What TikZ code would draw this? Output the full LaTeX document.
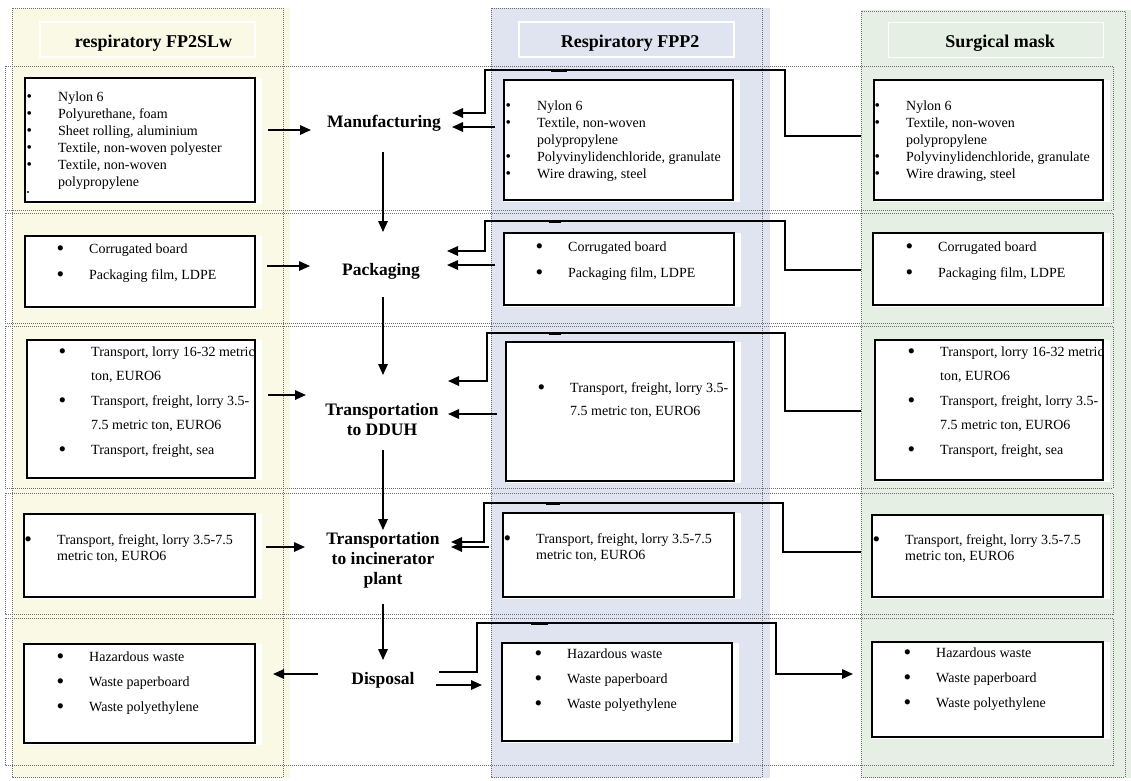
\documentclass[tikz,border=0pt]{standalone}
\usepackage{fontspec}
\usepackage{graphicx}
\setmainfont{Liberation Serif}
\usetikzlibrary{arrows.meta}
\pgfdeclarelayer{bg}
\pgfdeclarelayer{mid}
\pgfsetlayers{bg,mid,main}
\definecolor{colY}{RGB}{250,249,230}
\definecolor{colB}{RGB}{224,228,241}
\definecolor{colG}{RGB}{229,239,228}
\definecolor{dotc}{RGB}{110,110,110}
\newcommand\bu{\makebox[31.5pt][l]{\hspace*{-1.2pt}\smash{\raisebox{-2.4pt}{\scalebox{1.55}{\textbullet}}}}}
\newcommand\bs{\makebox[31.5pt][l]{\hspace*{-0.2pt}\raisebox{-0.4pt}{\scalebox{1.1}{\textbullet}}}}
\newcommand\ct{\hspace*{31.5pt}}
\newcommand\fl{\rule{0pt}{10pt}}
\tikzset{
  dotbox/.style={draw=dotc, line width=0.6pt, dash pattern=on 1pt off 1pt},
  hdrbox/.style={draw=white, line width=1.6pt, minimum width=215pt, minimum height=35pt, inner sep=0pt},
  title/.style={font=\bfseries\fontsize{18}{21}\selectfont, inner sep=0pt},
  lbl/.style={font=\bfseries\fontsize{17.5}{20}\selectfont, align=center, inner sep=0pt},
  box/.style={draw=black, line width=2.3pt, fill=white, inner sep=0pt, outer sep=0pt},
  txt/.style={anchor=north west, inner sep=0pt, align=left},
  sA/.style={font=\fontsize{14}{17}\selectfont},
  sB/.style={font=\fontsize{14}{26}\selectfont},
  sC/.style={font=\fontsize{14}{24.5}\selectfont},
  sD/.style={font=\fontsize{14}{16}\selectfont},
  sE/.style={font=\fontsize{14}{25}\selectfont},
  arr/.style={line width=1.6pt, -{Triangle[length=11pt,width=9.5pt]}},
  bit/.style={line width=3pt}
}
\begin{document}
\begin{tikzpicture}[x=1pt,y=-1pt]
\useasboundingbox (0,0) rectangle (1131,780);
\begin{pgfonlayer}{bg}
\fill[colY] (12,8) rectangle (290,778);
\fill[colB] (491,8) rectangle (770,778);
\fill[colG] (861,10) rectangle (1131,778);
\draw[dotbox] (5,66) rectangle (1113,210);
\draw[dotbox] (5,213) rectangle (1113,323);
\draw[dotbox] (5,326) rectangle (1113,488);
\draw[dotbox] (5,493) rectangle (1113,614);
\draw[dotbox] (5,618) rectangle (1113,765);
\draw[dotbox] (12,8) rectangle (283,777);
\draw[dotbox] (491,8) rectangle (762,777);
\draw[dotbox] (861,11) rectangle (1125,777);
\end{pgfonlayer}

% headers
\node[hdrbox, fill=colY] (h1) at (147.5,39.5) {};
\node[title] (t1) at (153.5,43) {respiratory FP2SLw};
\node[hdrbox, fill=colB] (h2) at (626.5,39.5) {};
\node[title] (t2) at (630,43) {Respiratory FPP2};
\node[hdrbox, fill=colG] (h3) at (996,40) {};
\node[title] (t3) at (1000,43) {Surgical mask};

% process labels
\node[lbl] (manu) at (384,123) {Manufacturing};
\node[lbl] (pack) at (381,271) {Packaging};
\node[lbl] (dduh) at (382,420) {Transportation\\to DDUH};
\node[lbl] (incin) at (383,560) {Transportation\\to incinerator\\plant};
\node[lbl] (disp) at (383,680) {Disposal};

% boxes
\node[box, minimum width=230pt, minimum height=124pt] (L1) at (140,140) {};
\node[box, minimum width=229pt, minimum height=120pt] (M1) at (618.5,140) {};
\node[box, minimum width=229pt, minimum height=120pt] (R1) at (988.5,140) {};
\node[box, minimum width=230pt, minimum height=71pt] (L2) at (140,271.5) {};
\node[box, minimum width=230pt, minimum height=72pt] (M2) at (619,269) {};
\node[box, minimum width=230pt, minimum height=72pt] (R2) at (988,269) {};
\node[box, minimum width=228pt, minimum height=138pt] (L3) at (141,409) {};
\node[box, minimum width=228pt, minimum height=139pt] (M3) at (620,411.5) {};
\node[box, minimum width=228pt, minimum height=140pt] (R3) at (989,410) {};
\node[box, minimum width=231pt, minimum height=83pt] (L4) at (139.5,555.5) {};
\node[box, minimum width=231pt, minimum height=84pt] (M4) at (618.5,555) {};
\node[box, minimum width=231pt, minimum height=82pt] (R4) at (987.5,556) {};
\node[box, minimum width=231pt, minimum height=99pt] (L5) at (139.5,693.5) {};
\node[box, minimum width=230pt, minimum height=98pt] (M5) at (617,692) {};
\node[box, minimum width=231pt, minimum height=95pt] (R5) at (987.5,689.5) {};

\begin{pgfonlayer}{mid}
\foreach \n in {L1,M1,R1,L2,M2,R2,L3,M3,R3,L4,M4,R4,L5,M5,R5}
  \fill[white] (\n.north west) rectangle ([shift={(7,1.5)}]\n.south east);
\end{pgfonlayer}

% texts
\node[txt, sA] (tL1) at (26.5,91) {\fl\bs Nylon 6\\\bs Polyurethane, foam\\\bs Sheet rolling, aluminium\\\bs Textile, non-woven polyester\\\bs Textile, non-woven\\\ct polypropylene};
\fill (28,192) circle (1.2);
\node[txt, sA] (tM1) at (505.5,100) {\fl\bs Nylon 6\\\bs Textile, non-woven\\\ct polypropylene\\\bs Polyvinylidenchloride, granulate\\\bs Wire drawing, steel};
\node[txt, sA] (tR1) at (874.5,100) {\fl\bs Nylon 6\\\bs Textile, non-woven\\\ct polypropylene\\\bs Polyvinylidenchloride, granulate\\\bs Wire drawing, steel};

\node[txt, sB] (tL2) at (57.5,243) {\fl\bu Corrugated board\\\bu Packaging film, LDPE};
\node[txt, sB] (tM2) at (536.5,241) {\fl\bu Corrugated board\\\bu Packaging film, LDPE};
\node[txt, sB] (tR2) at (906.5,241) {\fl\bu Corrugated board\\\bu Packaging film, LDPE};

\node[txt, sC] (tL3) at (59.5,346) {\fl\bu Transport, lorry 16-32 metric\\\ct ton, EURO6\\\bu Transport, freight, lorry 3.5-\\\ct 7.5 metric ton, EURO6\\\bu Transport, freight, sea};
\node[txt, font=\fontsize{14}{23.5}\selectfont] (tM3) at (538.5,382) {\fl\bu Transport, freight, lorry 3.5-\\\ct 7.5 metric ton, EURO6};
\node[txt, sC] (tR3) at (908.5,346) {\fl\bu Transport, lorry 16-32 metric\\\ct ton, EURO6\\\bu Transport, freight, lorry 3.5-\\\ct 7.5 metric ton, EURO6\\\bu Transport, freight, sea};

\node[txt, sD] (tL4) at (25.5,534) {\fl\bu Transport, freight, lorry 3.5-7.5\\\ct metric ton, EURO6};
\node[txt, sD] (tM4) at (504.5,533) {\fl\bu Transport, freight, lorry 3.5-7.5\\\ct metric ton, EURO6};
\node[txt, sD] (tR4) at (873.5,534) {\fl\bu Transport, freight, lorry 3.5-7.5\\\ct metric ton, EURO6};

\node[txt, sE] (tL5) at (57.5,651) {\fl\bu Hazardous waste\\\bu Waste paperboard\\\bu Waste polyethylene};
\node[txt, sE] (tM5) at (535.5,648) {\fl\bu Hazardous waste\\\bu Waste paperboard\\\bu Waste polyethylene};
\node[txt, sE] (tR5) at (904.5,647) {\fl\bu Hazardous waste\\\bu Waste paperboard\\\bu Waste polyethylene};

% row 1 connectors
\draw[arr] ([shift={(13,-10)}]L1.east) -- ([shift={(-73,7)}]manu.center);
\draw[arr] ([shift={(-9,-13)}]M1.west) -- ([shift={(68,4)}]manu.center);
\draw[arr] ([shift={(-13,-4)}]R1.west) -| ++(-76,-66) -| ++(-300,43) -- ([shift={(68,-10)}]manu.center);
\draw[bit] (551,70.5) -- (567,70.5);
\draw[arr] ([shift={(-1,29)}]manu.center) -- ++(0,80);

% row 2
\draw[arr] ([shift={(12,-5.5)}]L2.east) -- ([shift={(-71,-5)}]pack.center);
\draw[arr] ([shift={(-9,-4)}]M2.west) -- ([shift={(66,-6)}]pack.center);
\draw[arr] ([shift={(-12,1)}]R2.west) -| ++(-76,-49) -| ++(-300,30) -- ([shift={(66,-20)}]pack.center);
\draw[bit] (549,221.5) -- (561,221.5);
\draw[arr] ([shift={(2,26)}]pack.center) -- ++(0,78);

% row 3
\draw[arr] ([shift={(13,-14)}]L3.east) -- ([shift={(-76,-25)}]dduh.center);
\draw[arr] ([shift={(-9,2.5)}]M3.west) -- ([shift={(66,-6)}]dduh.center);
\draw[arr] ([shift={(-14,1)}]R3.west) -| ++(-76,-78) -| ++(-298,48) -- ([shift={(66,-39)}]dduh.center);
\draw[bit] (549,333.5) -- (561,333.5);
\draw[arr] ([shift={(1,30)}]dduh.center) -- ++(0,80);

% row 4
\draw[arr] ([shift={(11,-8.5)}]L4.east) -- ([shift={(-78,-13)}]incin.center);
\draw[arr] ([shift={(-14,-8)}]M4.west) -- ([shift={(68,-13)}]incin.center);
\draw[arr] ([shift={(-11,-4)}]R4.west) -| ++(-78,-49) -| ++(-299,39) -- ([shift={(68,-18)}]incin.center);
\draw[bit] (546,503.5) -- (560,503.5);
\draw[arr] ([shift={(0,44)}]incin.center) -- ++(0,56);

% row 5
\draw[arr] ([shift={(-65,-6)}]disp.center) -- ([shift={(18,-19.5)}]L5.east);
\draw[arr] ([shift={(53,5)}]disp.center) -- ([shift={(-20,-7)}]M5.west);
\draw[arr] ([shift={(56,-8)}]disp.center) -| ++(38,-49) -| ++(299,51) -- ([shift={(-19,-15.5)}]R5.west);
\draw[bit] (531,623.5) -- (548,623.5);
\end{tikzpicture}
\end{document}
